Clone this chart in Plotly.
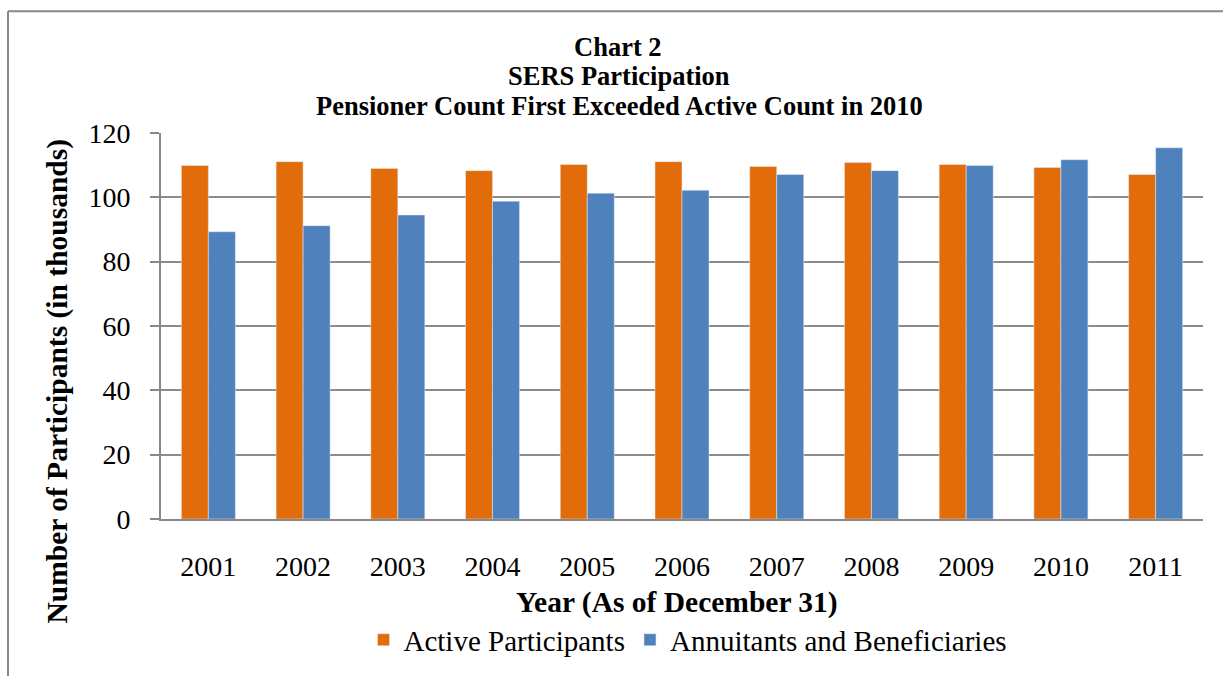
import plotly.graph_objects as go

years = ["2001", "2002", "2003", "2004", "2005", "2006", "2007", "2008", "2009", "2010", "2011"]
active = [109.9, 111.1, 109.0, 108.3, 110.2, 111.1, 109.6, 110.8, 110.2, 109.3, 107.1]
annuitants = [89.3, 91.2, 94.5, 98.8, 101.3, 102.2, 107.1, 108.3, 109.9, 111.7, 115.4]
y_ticks = [0, 20, 40, 60, 80, 100, 120]

FONT = "Liberation Serif"
W, H = 1223, 677
L, R, T, B = 161, 20, 133, 148
pw, ph = W - L - R, H - T - B

def px(x):
    return (x - L) / pw

def py(y):
    return (H - B - y) / ph

fig = go.Figure()
fig.add_trace(go.Bar(x=years, y=active, name="Active Participants", marker_color="#E36C0A"))
fig.add_trace(go.Bar(x=years, y=annuitants, name="Annuitants and Beneficiaries", marker_color="#4F81BD"))

fig.update_layout(
    width=W, height=H,
    margin=dict(l=L, r=R, t=T, b=B, pad=0),
    paper_bgcolor="white", plot_bgcolor="white",
    barmode="group", bargap=0.43, bargroupgap=0,
    font=dict(family=FONT, color="black"),
    showlegend=True,
    legend=dict(orientation="h", x=px(688), xanchor="center", y=py(653), yanchor="middle",
                font=dict(size=29, family=FONT), itemwidth=30, traceorder="normal",
                bgcolor="rgba(0,0,0,0)"),
    xaxis=dict(showgrid=False, showline=True, linecolor="#888888", linewidth=2,
               ticks="outside", ticklen=21, tickcolor="rgba(0,0,0,0)",
               tickfont=dict(size=28, family=FONT)),
    yaxis=dict(range=[0, 120], tickvals=y_ticks, showgrid=True, gridcolor="#8c8c8c", gridwidth=2,
               showline=True, linecolor="#888888", linewidth=2, zeroline=False,
               ticks="outside", ticklen=9, tickcolor="#888888", tickwidth=2,
               ticklabelstandoff=14, tickfont=dict(size=28, family=FONT)),
    annotations=[
        dict(text="<b>Chart 2</b>", x=px(618), y=py(45), xref="paper", yref="paper",
             showarrow=False, font=dict(size=26.5, family=FONT), xanchor="center", yanchor="middle"),
        dict(text="<b>SERS Participation</b>", x=px(619), y=py(75), xref="paper", yref="paper",
             showarrow=False, font=dict(size=26.5, family=FONT), xanchor="center", yanchor="middle"),
        dict(text="<b>Pensioner Count First Exceeded Active Count in 2010</b>", x=px(619), y=py(105),
             xref="paper", yref="paper", showarrow=False, font=dict(size=26.5, family=FONT),
             xanchor="center", yanchor="middle"),
        dict(text="<b>Year (As of December 31)</b>", x=px(677), y=py(615), xref="paper", yref="paper",
             showarrow=False, font=dict(size=29.5, family=FONT), xanchor="center", yanchor="middle"),
        dict(text="<b>Number of Participants (in thousands)</b>", x=px(58), y=py(388), xref="paper",
             yref="paper", showarrow=False, textangle=-90, font=dict(size=29.5, family=FONT),
             xanchor="center", yanchor="middle"),
    ],
    shapes=[
        dict(type="line", xref="paper", yref="paper", x0=px(8), x1=px(8), y0=py(8), y1=py(690),
             line=dict(color="#888888", width=2)),
        dict(type="line", xref="paper", yref="paper", x0=px(8), x1=px(1230), y0=py(8), y1=py(8),
             line=dict(color="#888888", width=2)),
    ],
)

fig.write_html("out.html", config={"displayModeBar": False},
               post_script="document.body.style.margin='0';document.body.style.overflow='hidden';")
